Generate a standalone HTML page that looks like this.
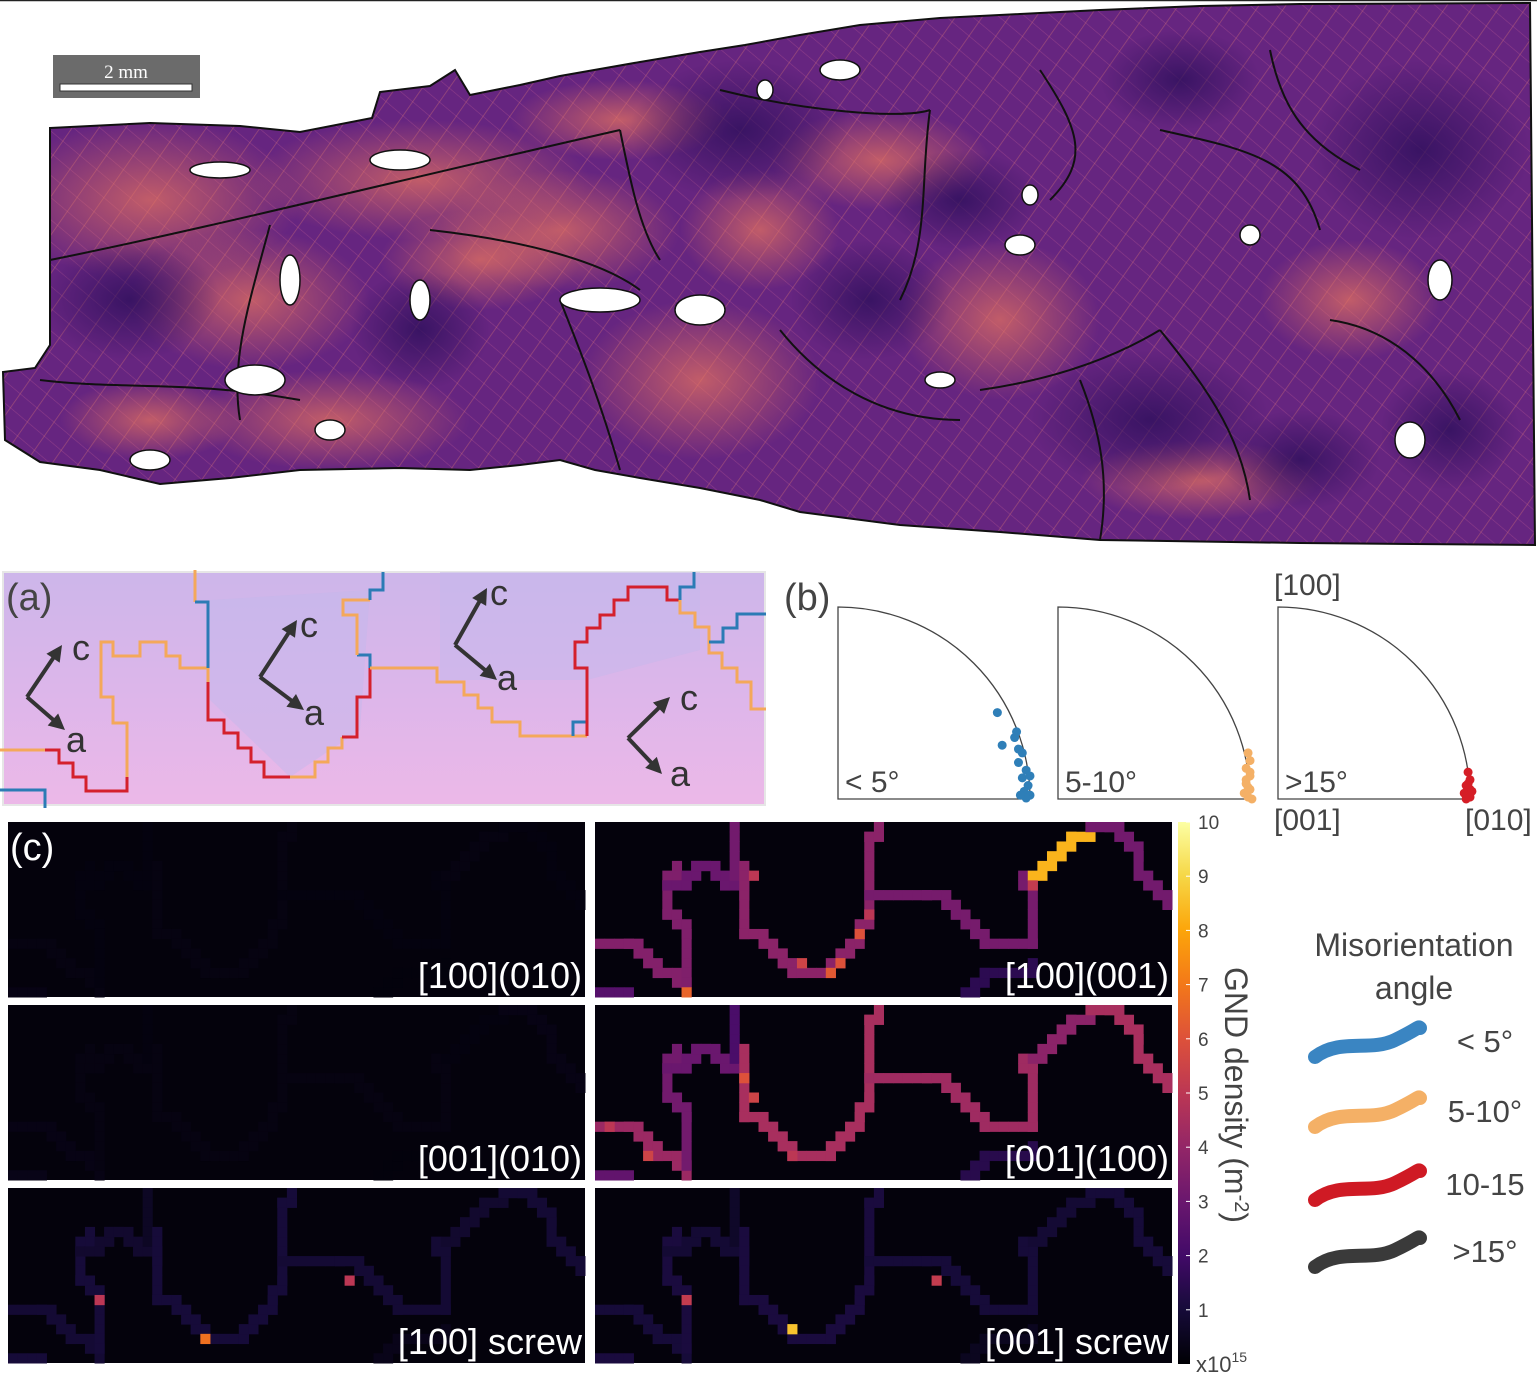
<!DOCTYPE html>
<html><head><meta charset="utf-8">
<style>
html,body{margin:0;padding:0;background:#fff;}
body{width:1537px;height:1376px;position:relative;overflow:hidden;font-family:"Liberation Sans","DejaVu Sans",sans-serif;}
svg{position:absolute;left:0;top:0;}
</style></head>
<body>
<svg id="fig" width="1537" height="1376" viewBox="0 0 1537 1376">
<defs>
 <linearGradient id="bgA" x1="0" y1="0" x2="0" y2="1">
  <stop offset="0" stop-color="#cdb6ea"/><stop offset="0.5" stop-color="#dcb6ea"/><stop offset="1" stop-color="#ecb8e8"/>
 </linearGradient>
 <radialGradient id="hot" cx="0.5" cy="0.5" r="0.5">
  <stop offset="0" stop-color="#e8745f" stop-opacity="0.7"/><stop offset="1" stop-color="#e8745f" stop-opacity="0"/>
 </radialGradient>
 <radialGradient id="dark" cx="0.5" cy="0.5" r="0.5">
  <stop offset="0" stop-color="#2a0e5a" stop-opacity="0.75"/><stop offset="1" stop-color="#2a0e5a" stop-opacity="0"/>
 </radialGradient>
 <pattern id="hatch1" width="22" height="22" patternUnits="userSpaceOnUse" patternTransform="rotate(35)">
  <line x1="0" y1="0" x2="0" y2="22" stroke="#f28a6c" stroke-width="1.6" opacity="0.35"/>
 </pattern>
 <pattern id="hatch2" width="17" height="17" patternUnits="userSpaceOnUse" patternTransform="rotate(-50)">
  <line x1="0" y1="0" x2="0" y2="17" stroke="#e5709a" stroke-width="1.2" opacity="0.3"/>
 </pattern>
 <clipPath id="mapClip"><path id="mapOutlineClip" d=""/></clipPath>
 <linearGradient id="cbar" x1="0" y1="1" x2="0" y2="0">
  <stop offset="0" stop-color="#000004"/><stop offset="0.1" stop-color="#160b39"/><stop offset="0.2" stop-color="#420a68"/>
  <stop offset="0.3" stop-color="#6a176e"/><stop offset="0.4" stop-color="#932667"/><stop offset="0.5" stop-color="#bc3754"/>
  <stop offset="0.6" stop-color="#dd513a"/><stop offset="0.7" stop-color="#f37819"/><stop offset="0.8" stop-color="#fca50a"/>
  <stop offset="0.9" stop-color="#f6d746"/><stop offset="1" stop-color="#fcffa4"/>
 </linearGradient>
</defs>
<line x1="0" y1="0.5" x2="1537" y2="0.5" stroke="#222" stroke-width="1.5"/>
<g id="map"></g>
<g>
 <rect x="53" y="55" width="147" height="43" fill="#6b6b6b"/>
 <text x="126" y="78" font-family="Liberation Serif, serif" font-size="19" fill="#fff" text-anchor="middle">2 mm</text>
 <rect x="60" y="84" width="132" height="7" fill="#fff" stroke="#333" stroke-width="1"/>
</g>
<g id="panelA">
 <rect x="3" y="572" width="762" height="233" fill="url(#bgA)" stroke="#e6e6e6" stroke-width="2"/>
 <path d="M440 572 L700 572 L700 650 L587 680 L440 680 Z" fill="#c5b8ec" opacity="0.5"/>
 <path d="M210 600 L370 590 L360 730 L290 777 L210 700 Z" fill="#c4b8ec" opacity="0.5"/>
 <text x="6" y="610" font-size="38" fill="#444">(a)</text>
</g>
<g id="panelB">
 <text x="784" y="610" font-size="38" fill="#444">(b)</text>
</g>
<g id="panelC"></g>
<g id="cbarG">
 <rect x="1178" y="822" width="12" height="542" fill="url(#cbar)"/>
</g>
<g id="legend">
 <text x="1414" y="956" font-size="32" fill="#444" text-anchor="middle">Misorientation</text>
 <text x="1414" y="999" font-size="32" fill="#444" text-anchor="middle">angle</text>
</g>
</svg>
<script>
const NS='http://www.w3.org/2000/svg';
function mk(tag,attrs,parent){const e=document.createElementNS(NS,tag);for(const k in attrs)e.setAttribute(k,attrs[k]);if(parent)parent.appendChild(e);return e;}

/* ---------- top map (illustrative texture) ---------- */
const mapOutline=[[50,128],[150,123],[240,126],[300,132],[372,118],[380,92],[430,86],[455,70],[470,95],[520,85],[560,76],[640,62],[700,52],[745,45],[800,35],[860,25],[940,18],[1020,14],[1100,10],[1200,6],[1300,4],[1530,3],[1535,545],[1300,543],[1100,540],[1000,532],[900,525],[800,512],[760,500],[700,488],[640,478],[595,470],[560,460],[520,465],[470,470],[400,468],[300,470],[230,478],[160,484],[100,470],[40,462],[5,440],[3,372],[35,368],[50,345]];
const map=document.getElementById('map');
const od='M'+mapOutline.map(p=>p.join(' ')).join(' L')+' Z';
document.getElementById('mapOutlineClip').setAttribute('d',od);
const mbase=mk('path',{d:od,fill:'#662580'},map);


const tex=mk('g',{'clip-path':'url(#mapClip)'},map);
mk('rect',{x:0,y:0,width:1537,height:550,fill:'url(#hatch1)'},tex);
mk('rect',{x:0,y:0,width:1537,height:550,fill:'url(#hatch2)'},tex);
const hotSpots=[[150,200,150,80],[250,300,120,70],[420,180,170,60],[560,230,120,60],[330,420,140,50],[700,380,120,80],[880,160,110,50],[1000,320,100,80],[150,420,90,40],[1350,300,90,60],[1200,480,120,40],[620,120,110,40],[480,260,100,50],[760,230,80,60]];
hotSpots.forEach(h=>mk('ellipse',{cx:h[0],cy:h[1],rx:h[2],ry:h[3],fill:'url(#hot)'},tex));
const darkSpots=[[1420,150,110,90],[1180,80,80,50],[740,130,110,70],[870,300,80,60],[1150,420,120,70],[1300,460,80,50],[130,300,90,60],[420,330,70,60],[960,200,80,50],[1450,430,70,60]];
darkSpots.forEach(h=>mk('ellipse',{cx:h[0],cy:h[1],rx:h[2],ry:h[3],fill:'url(#dark)'},tex));
const gb=['M50 260 C200 230 400 180 620 130','M270 225 C250 300 230 360 240 420','M430 230 C520 240 600 260 640 290','M620 130 C630 180 640 230 660 260','M720 90 C800 110 900 120 930 110','M930 110 C920 180 930 240 900 300','M1040 70 C1080 130 1090 160 1050 200','M1160 130 C1250 150 1300 160 1320 230','M1270 50 C1280 100 1300 140 1360 170','M980 390 C1050 380 1110 360 1160 330','M1160 330 C1200 380 1240 430 1250 500','M1080 380 C1100 430 1110 480 1100 540','M1330 320 C1400 330 1440 380 1460 420','M780 330 C820 380 880 420 960 420','M40 380 C120 390 190 380 300 400','M560 300 C580 350 600 400 620 470'];
gb.forEach(d=>mk('path',{d:d,fill:'none',stroke:'#111',"stroke-width":2},tex));
const holes=[[220,170,30,8],[400,160,30,10],[600,300,40,12],[330,430,15,10],[1440,280,12,20],[1410,440,15,18],[1250,235,10,10],[765,90,8,10],[840,70,20,10],[1020,245,15,10],[940,380,15,8],[1030,195,8,10],[290,280,10,25],[420,300,10,20],[700,310,25,15],[150,460,20,10],[255,380,30,15]];
holes.forEach(h=>mk('ellipse',{cx:h[0],cy:h[1],rx:h[2],ry:h[3],fill:'#fff',stroke:'#111',"stroke-width":1.5},tex));
mk('path',{d:od,fill:'none',stroke:'#111',"stroke-width":2},map);

/* ---------- panel (a) boundaries ---------- */
const panelA=document.getElementById('panelA');
const segColors={blue:'#2b7bb5',orange:'#f4a85a',red:'#d4202c'};
const segsA=[
 ['orange',[[0,750],[45,750]]],
 ['red',[[45,750],[59,750],[59,763],[73,763],[73,777],[86,777],[86,791],[127,791],[127,777]]],
 ['orange',[[127,777],[127,723],[113,723],[113,697],[101,697],[101,642],[113,642],[113,656],[140,656],[140,642],[166,642],[166,656],[180,656],[180,668],[208,668],[208,682]]],
 ['blue',[[0,790],[45,790],[45,808]]],
 ['orange',[[195,570],[195,602]]],
 ['blue',[[195,602],[208,602],[208,668]]],
 ['red',[[208,682],[208,720],[224,720],[224,733],[238,733],[238,748],[251,748],[251,762],[264,762],[264,777],[290,777]]],
 ['orange',[[290,777],[315,777],[315,762],[328,762],[328,748],[342,748],[342,737]]],
 ['red',[[342,737],[357,737],[357,697],[370,697],[370,668]]],
 ['blue',[[370,668],[370,655],[357,655]]],
 ['orange',[[357,655],[357,615],[343,615],[343,600],[370,600]]],
 ['blue',[[370,600],[370,590],[383,590],[383,572]]],
 ['orange',[[370,668],[437,668],[437,682],[464,682],[464,695],[478,695],[478,708],[492,708],[492,722],[520,722],[520,736],[587,736]]],
 ['blue',[[573,736],[573,722],[587,722]]],
 ['red',[[587,736],[587,668],[575,668],[575,642],[587,642],[587,628],[600,628],[600,615],[614,615],[614,600],[628,600],[628,587],[667,587],[667,600],[680,600]]],
 ['blue',[[680,600],[680,587],[694,587],[694,572]]],
 ['orange',[[680,600],[680,613],[695,613],[695,627],[709,627],[709,653],[722,653],[722,668],[737,668],[737,682],[751,682],[751,709],[766,709]]],
 ['blue',[[709,642],[723,642],[723,628],[737,628],[737,614],[766,614]]]
];
segsA.forEach((s,i)=>{
 const p=mk('polyline',{points:s[1].map(q=>q.join(',')).join(' '),fill:'none',stroke:segColors[s[0]],"stroke-width":3,"stroke-linejoin":"miter"},panelA);
 
 
});
const axesA=[[27,697,62,645,65,730,72,660,66,752],[260,677,297,620,304,710,300,637,304,725],[455,645,487,588,497,680,490,605,497,690],[628,738,670,697,662,774,680,710,670,786]];
axesA.forEach((a,i)=>{
 const g=mk('g',{},panelA);
 
 
 [[a[2],a[3]],[a[4],a[5]]].forEach(t=>{
  const dx=t[0]-a[0],dy=t[1]-a[1],L=Math.hypot(dx,dy),ux=dx/L,uy=dy/L;
  mk('line',{x1:a[0],y1:a[1],x2:t[0]-ux*8,y2:t[1]-uy*8,stroke:'#333',"stroke-width":4},g);
  const bx=t[0]-ux*16,by=t[1]-uy*16;
  mk('polygon',{points:`${t[0]},${t[1]} ${bx-uy*8},${by+ux*8} ${bx+uy*8},${by-ux*8}`,fill:'#333'},g);
 });
 const tc=mk('text',{x:a[6],y:a[7],"font-size":36,fill:'#333'},g);tc.textContent='c';
 const ta=mk('text',{x:a[8],y:a[9],"font-size":36,fill:'#333'},g);ta.textContent='a';
});

/* ---------- panel (b) inverse pole figures ---------- */
const ipfOrigins=[838,1058,1278];
const ipfLabels=['< 5°','5-10°','>15°'];
const ipfColors=['#2f7fb8','#f4b066','#d51e26'];
const blueU=[0.83,0.855,0.92,0.94,0.96,0.94,0.98,0.96,1.0,0.99,0.97,1.0,0.98,0.95,0.93];
const blueV=[0.45,0.28,0.32,0.26,0.24,0.19,0.15,0.11,0.12,0.07,0.04,0.02,0.005,0.02,0.35];
const orangeU=[0.99,1.0,0.98,1.0,0.98,1.0,0.97,0.99,1.01,0.98,1.0,0.99];
const orangeV=[0.24,0.2,0.16,0.12,0.08,0.05,0.03,0.01,0.0,0.1,0.14,0.06];
const redU=[0.99,1.0,0.98,1.0,0.97,1.0,0.98,1.01,0.99];
const redV=[0.14,0.1,0.07,0.05,0.03,0.01,0.0,0.04,0.08];
const ipfU=[blueU,orangeU,redU],ipfV=[blueV,orangeV,redV];
const panelB=document.getElementById('panelB');
const R=192,oy=799;
ipfOrigins.forEach((ox,k)=>{
 const g=mk('g',{},panelB);
 
 
 mk('path',{d:`M${ox} ${oy} L${ox} ${oy-R} A${R} ${R} 0 0 1 ${ox+R} ${oy} Z`,fill:'none',stroke:'#444',"stroke-width":1.3},g);
 const t=mk('text',{x:ox+7,y:792,"font-size":30,fill:'#444'},g);t.textContent=ipfLabels[k];
 ipfU[k].forEach((u,i)=>{
  const c=mk('circle',{cx:ox+u*R,cy:oy-ipfV[k][i]*R,r:4.5,fill:ipfColors[k]},g);
  
  
 });
});
[['[100]',1274,595],['[001]',1274,830],['[010]',1465,830]].forEach(l=>{
 const t=mk('text',{x:l[1],y:l[2],"font-size":30,fill:'#444'},panelB);t.textContent=l[0];
 
 
});

/* ---------- panel (c) heatmaps ---------- */
const inferno=['#000004','#160b39','#420a68','#6a176e','#932667','#bc3754','#dd513a','#f37819','#fca50a','#f6d746','#fcffa4'];
function hex2rgb(h){return [1,3,5].map(i=>parseInt(h.substr(i,2),16));}
function cmap(v){const t=Math.max(0,Math.min(1,v/10))*10;const i=Math.min(9,Math.floor(t)),f=t-i;const a=hex2rgb(inferno[i]),b=hex2rgb(inferno[i+1]);return 'rgb('+a.map((x,j)=>Math.round(x+(b[j]-x)*f)).join(',')+')';}
const nCols=60,nRows=18;
const panelNames=['[100](010)','[100](001)','[001](010)','[001](100)','[100] screw','[001] screw'];
const panelX=[8,595,8,595,8,595];
const panelY=[822,822,1005,1005,1188,1188];
const panelW=577,panelH=175;
const boundaryPaths=[
 [[0,12],[3,12],[6,15],[9,17]],
 [[8,4],[7,6],[7,9],[9,11],[9,16]],
 [[7,6],[9,6],[10,4],[11,4],[13,6],[15,7]],
 [[14,0],[14,5]],
 [[15,4],[15,11],[19,14],[20,15],[24,15],[27,11],[28,9],[28,1],[29,0]],
 [[28,7],[34,7],[37,9],[40,12],[45,12],[45,6],[44,5]],
 [[45,5],[49,1],[51,0]],
 [[51,0],[53,0],[56,3],[60,9]],
 [[38,17],[40,15],[45,14]],
 [[0,17],[3,17]]
];
const vals100_010=[0.25,0.2,0.2,0.2,0.25,0.2,0.25,0.2,0.15,0.3];
const vals100_001=[3.6,3.5,3.0,3.2,3.8,3.3,8.3,3.2,1.5,2.5];
const vals001_010=[0.3,0.25,0.25,0.2,0.25,0.25,0.2,0.3,0.15,0.35];
const vals001_100=[4.2,3.2,3.0,2.2,4.5,4.3,3.8,4.5,1.4,2.8];
const vals100_screw=[0.9,1.0,0.8,0.6,1.0,0.9,0.8,0.9,0.4,1.0];
const vals001_screw=[1.0,1.1,0.9,0.7,1.1,1.0,0.9,1.0,0.5,1.1];
const panelVals=[vals100_010,vals100_001,vals001_010,vals001_100,vals100_screw,vals001_screw];
const hot100_010=[];
const hot100_001=[[9,17,6.5],[27,11,6],[25,14,6],[24,15,6.2],[21,14,5.5],[28,9,5],[45,6,5.2],[16,5,5]];
const hot001_010=[];
const hot001_100=[[15,7,6],[16,9,5.5],[20,15,5],[1,12,5],[5,15,5.5]];
const hot100_screw=[[9,11,5],[20,15,6.8],[35,9,5]];
const hot001_screw=[[9,11,5.2],[20,14,8.6],[35,9,5.2]];
const panelHot=[hot100_010,hot100_001,hot001_010,hot001_100,hot100_screw,hot001_screw];
function pathCells(pts){const cells=[];for(let i=0;i<pts.length-1;i++){let [c,r]=pts[i];const [c2,r2]=pts[i+1];cells.push([c,r]);let guard=0;while((c!==c2||r!==r2)&&guard++<200){if(c!==c2&&(r===r2||Math.abs(c2-c)>=Math.abs(r2-r)))c+=Math.sign(c2-c);else r+=Math.sign(r2-r);cells.push([c,r]);}}return cells;}
const panelC=document.getElementById('panelC');
panelNames.forEach((name,k)=>{
 const g=mk('g',{},panelC);
 
 
 const x0=panelX[k],y0=panelY[k],cw=panelW/nCols,ch=panelH/nRows;
 mk('rect',{x:x0,y:y0,width:panelW,height:panelH,fill:'#04020c'},g);
 boundaryPaths.forEach((p,j)=>{
  pathCells(p).forEach(cell=>{
   if(cell[0]<0||cell[0]>=nCols||cell[1]<0||cell[1]>=nRows)return;
   const r=mk('rect',{x:x0+cell[0]*cw,y:y0+cell[1]*ch,width:cw+0.5,height:ch+0.5,fill:cmap(panelVals[k][j])},g);
   
   
  });
 });
 panelHot[k].forEach(h=>{
  const r=mk('rect',{x:x0+h[0]*cw,y:y0+h[1]*ch,width:cw+0.5,height:ch+0.5,fill:cmap(h[2])},g);
  
  
 });
 const t=mk('text',{x:x0+panelW-3,y:y0+panelH-9,"font-size":36,fill:'#fff','text-anchor':'end'},g);
 t.textContent=name;
 
 
});
const lc=mk('text',{x:10,y:860,"font-size":38,fill:'#fff'},panelC);lc.textContent='(c)';



/* ---------- colorbar ---------- */
const cbTicks=[1,2,3,4,5,6,7,8,9,10];
const cbMin=0,cbMax=10,cbTop=822,cbBottom=1364;
function cbY(v){return cbBottom-(v-cbMin)/(cbMax-cbMin)*(cbBottom-cbTop);}
const cbG=document.getElementById('cbarG');
cbTicks.forEach(v=>{
 mk('line',{x1:1186,y1:cbY(v),x2:1190,y2:cbY(v),stroke:'#fff',"stroke-width":1},cbG);
 const t=mk('text',{x:1198,y:cbY(v)+7,"font-size":19,fill:'#444'},cbG);t.textContent=String(v);
 
 
});
const ex=mk('text',{x:1196,y:1372,"font-size":22,fill:'#444'},cbG);ex.innerHTML='x10<tspan dy="-10" font-size="14">15</tspan>';
const cbt=mk('text',{x:1225,y:1095,"font-size":32,fill:'#444','text-anchor':'middle',transform:'rotate(90 1225 1095)'},cbG);
cbt.innerHTML='GND density (m<tspan dy="-10" font-size="20">-2</tspan><tspan dy="10">)</tspan>';



/* ---------- legend ---------- */
const legLabels=['< 5°','5-10°','10-15','>15°'];
const legColors=['#3a85c2','#f4b066','#cf1a24','#3a3a3a'];
const legY=[1040,1110,1183,1250];
const legG=document.getElementById('legend');
legLabels.forEach((l,i)=>{
 const y=legY[i];
 const p=mk('path',{d:`M1315 ${y+17} C1340 ${y-2} 1370 ${y+12} 1395 ${y} S1418 ${y-14} 1420 ${y-12}`,fill:'none',stroke:legColors[i],"stroke-width":14,"stroke-linecap":'round'},legG);
 
 
 const t=mk('text',{x:1485,y:y+12,"font-size":31,fill:'#444','text-anchor':'middle'},legG);t.textContent=l;
 
 
});
</script>
</body></html>
